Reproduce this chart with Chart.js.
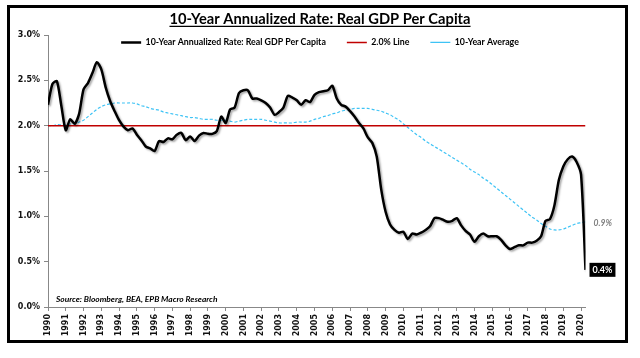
<!DOCTYPE html>
<html><head><meta charset="utf-8">
<script src="https://cdn.jsdelivr.net/npm/chart.js@4.4.1/dist/chart.umd.min.js"></script>
<style>html,body{margin:0;padding:0;background:#fff;}canvas{display:block;}</style>
</head><body>
<canvas id="c" width="640" height="358"></canvas>
<script>
// ---- data (quarterly, 1990Q1 .. 2020Q2) ----
const titleText = '10-Year Annualized Rate: Real GDP Per Capita';
const sourceText = 'Source: Bloomberg, BEA, EPB Macro Research';
const seriesNames = ['10-Year Annualized Rate: Real GDP Per Capita', '2.0% Line', '10-Year Average'];
const startYear = 1990;
const yearTicks = [1990,1991,1992,1993,1994,1995,1996,1997,1998,1999,2000,2001,2002,2003,2004,2005,2006,2007,2008,2009,2010,2011,2012,2013,2014,2015,2016,2017,2018,2019,2020];
const yTicks = [0, 0.5, 1.0, 1.5, 2.0, 2.5, 3.0];
const targetRate = 2.0;
const gdp10y = [
 2.23,2.46,2.49,2.22, 1.95,2.07,2.02,2.13, 2.40,2.47,2.58,2.70, 2.62,2.42,2.27,2.16,
 2.06,1.99,1.95,1.97, 1.90,1.84,1.77,1.75, 1.72,1.83,1.82,1.86, 1.85,1.90,1.92,1.84,
 1.88,1.83,1.89,1.92, 1.91,1.91,1.94,2.10, 2.03,2.18,2.20,2.36, 2.39,2.39,2.30,2.30,
 2.28,2.25,2.20,2.12, 2.15,2.20,2.33,2.31, 2.28,2.23,2.28,2.26, 2.34,2.37,2.38,2.39,
 2.44,2.30,2.23,2.21, 2.16,2.10,2.03,1.97, 1.87,1.81,1.66,1.30, 1.05,0.91,0.85,0.82,
 0.83,0.75,0.81,0.80, 0.82,0.85,0.89,0.98, 0.98,0.96,0.94,0.95, 0.98,0.90,0.84,0.80,
 0.72,0.78,0.81,0.78, 0.78,0.78,0.74,0.68, 0.64,0.66,0.68,0.68, 0.71,0.71,0.73,0.78,
 0.95,0.97,1.12,1.40, 1.55,1.63,1.66,1.60, 1.46,0.41
];
const avg10y = [
 2.00,2.00,2.01,2.01, 2.01,2.02,2.02,2.04, 2.06,2.10,2.14,2.18, 2.21,2.23,2.24,2.25,
 2.25,2.25,2.25,2.25, 2.24,2.22,2.21,2.19, 2.18,2.17,2.15,2.14, 2.13,2.12,2.11,2.10,
 2.09,2.09,2.08,2.07, 2.07,2.07,2.06,2.06, 2.06,2.05,2.04,2.05, 2.06,2.07,2.07,2.07,
 2.07,2.06,2.05,2.04, 2.03,2.03,2.03,2.03, 2.04,2.04,2.04,2.05, 2.07,2.08,2.10,2.11,
 2.13,2.14,2.16,2.17, 2.18,2.19,2.19,2.19, 2.19,2.18,2.17,2.16, 2.14,2.12,2.09,2.06,
 2.02,1.98,1.94,1.90, 1.87,1.83,1.80,1.77, 1.74,1.71,1.68,1.65, 1.62,1.59,1.56,1.52,
 1.49,1.46,1.42,1.39, 1.35,1.31,1.27,1.23, 1.19,1.15,1.11,1.07, 1.03,0.99,0.96,0.92,
 0.89,0.86,0.85,0.85, 0.86,0.88,0.90,0.92, 0.93,0.94
];
const quarterX = gdp10y.map((_, i) => startYear + i / 4);

const FONT_TXT = 'Lato, "Liberation Sans", sans-serif';
const FONT_TICK = '"DejaVu Sans", sans-serif';
const TITLE_SIZE = 14.7;
const TITLE_PAD_TOP = 10;

const decor = {
  id: 'decor',
  beforeDraw(chart) {
    const c = chart.ctx; c.save(); c.fillStyle = '#fff'; c.fillRect(0, 0, chart.width, chart.height); c.restore();
  },
  beforeLayout(chart) {
    const lg = chart.legend;
    if (lg && !lg._noSpace) {
      const origFit = lg.fit.bind(lg);
      lg.fit = function () { origFit(); this._realH = this.height; this.height = 0; };
      lg._noSpace = true;
    }
  },
  afterLayout(chart) {
    const lg = chart.legend, tb = chart.titleBlock;
    if (tb) { tb.left = 0; tb.right = chart.width; tb.width = chart.width; }
    if (lg) {
      lg.left = 0; lg.right = chart.width; lg.width = chart.width;
      lg.top = 17; lg.height = lg._realH || 40; lg.bottom = lg.top + lg.height;
    }
  },
  beforeDatasetDraw(chart, args) {
    if (args.index === 0) {
      const c = chart.ctx; c.save();
      c.shadowColor = 'rgba(0,0,0,0.35)'; c.shadowBlur = 2; c.shadowOffsetX = 1.5; c.shadowOffsetY = 1.5;
    }
  },
  afterDatasetDraw(chart, args) { if (args.index === 0) chart.ctx.restore(); },
  afterDraw(chart) {
    const c = chart.ctx, xs = chart.scales.x, ys = chart.scales.y;
    c.save();
    // title underline
    const tb = chart.titleBlock;
    c.font = 'bold ' + TITLE_SIZE + 'px ' + FONT_TXT;
    const tw = c.measureText(titleText).width;
    const tcx = (tb.left + tb.right) / 2;
    const uy = tb.top + TITLE_PAD_TOP + TITLE_SIZE * 1.2 / 2 + 7.5;
    c.strokeStyle = '#000'; c.lineWidth = 1.2;
    c.beginPath(); c.moveTo(tcx - tw / 2, uy); c.lineTo(tcx + tw / 2, uy); c.stroke();
    // source note
    c.font = 'italic bold 8.4px ' + FONT_TXT;
    c.fillStyle = '#000'; c.textBaseline = 'middle'; c.textAlign = 'left';
    c.fillText(sourceText, 56, 299);
    // end labels
    const n = gdp10y.length - 1;
    const xe = xs.getPixelForValue(quarterX[n]);
    const lastTxt = gdp10y[n].toFixed(1) + '%';
    c.font = 'bold 9px ' + FONT_TXT;
    const lw = c.measureText(lastTxt).width + 6;
    const ly = ys.getPixelForValue(gdp10y[n]);
    c.fillStyle = '#000'; c.fillRect(xe + 4, ly - 7, lw, 14);
    c.fillStyle = '#fff'; c.fillText(lastTxt, xe + 7, ly + 0.5);
    const avgTxt = avg10y[n].toFixed(1) + '%';
    c.font = 'italic bold 8.5px ' + FONT_TXT;
    c.fillStyle = '#808080';
    c.fillText(avgTxt, xe + 8, ys.getPixelForValue(avg10y[n]) + 1);
    // outer frame
    c.strokeStyle = '#000'; c.lineWidth = 3;
    c.strokeRect(8.5, 6.5, 618, 335);
    c.restore();
  }
};

new Chart(document.getElementById('c'), {
  type: 'line',
  data: {
    datasets: [
      { label: seriesNames[0], data: quarterX.map((x, i) => ({x, y: gdp10y[i]})),
        borderColor: '#000', borderWidth: 2.5, pointRadius: 0, tension: 0.25, fill: false },
      { label: seriesNames[1], data: [quarterX[0], quarterX[quarterX.length - 1]].map(x => ({x, y: targetRate})),
        borderColor: '#C00000', borderWidth: 1.5, pointRadius: 0, fill: false },
      { label: seriesNames[2], data: quarterX.map((x, i) => ({x, y: avg10y[i]})),
        borderColor: '#3EC3F5', borderWidth: 1.2, borderDash: [3, 2], pointRadius: 0, tension: 0.3, fill: false }
    ]
  },
  options: {
    responsive: false, animation: false, devicePixelRatio: 1,
    layout: { padding: { left: 0, right: 54.5, top: 0, bottom: 0 } },
    plugins: {
      title: { display: true, text: titleText, color: '#000',
        font: { family: FONT_TXT, size: TITLE_SIZE, weight: 'bold', lineHeight: 1.2 },
        padding: { top: TITLE_PAD_TOP, bottom: 35 - TITLE_PAD_TOP - TITLE_SIZE * 1.2 } },
      legend: { position: 'top', align: 'center',
        labels: { usePointStyle: true, pointStyle: 'line', pointStyleWidth: 20, padding: 21, color: '#000',
          font: { family: FONT_TXT, size: 8.8, weight: 'bold' } } },
      tooltip: { enabled: false }
    },
    scales: {
      x: { type: 'linear', min: quarterX[0], max: quarterX[quarterX.length - 1],
        afterBuildTicks: s => { s.ticks = yearTicks.map(v => ({ value: v })); },
        afterFit: s => { s.height = 51; },
        ticks: { autoSkip: false, minRotation: 90, maxRotation: 90, padding: 3, color: '#111',
          font: { family: FONT_TICK, size: 8, weight: 'bold' }, callback: v => String(v) },
        grid: { drawOnChartArea: false, drawTicks: true, tickLength: 4, color: '#888' },
        border: { color: '#888', width: 1 } },
      y: { min: 0, max: 3,
        afterBuildTicks: s => { s.ticks = yTicks.map(v => ({ value: v })); },
        afterFit: s => { s.width = 48; },
        ticks: { padding: 4, color: '#111', font: { family: FONT_TICK, size: 8, weight: 'bold' },
          callback: v => Number(v).toFixed(1) + '%' },
        grid: { drawOnChartArea: false, drawTicks: true, tickLength: 4, color: '#888' },
        border: { color: '#888', width: 1 } }
    }
  },
  plugins: [decor]
});
</script>
</body></html>
